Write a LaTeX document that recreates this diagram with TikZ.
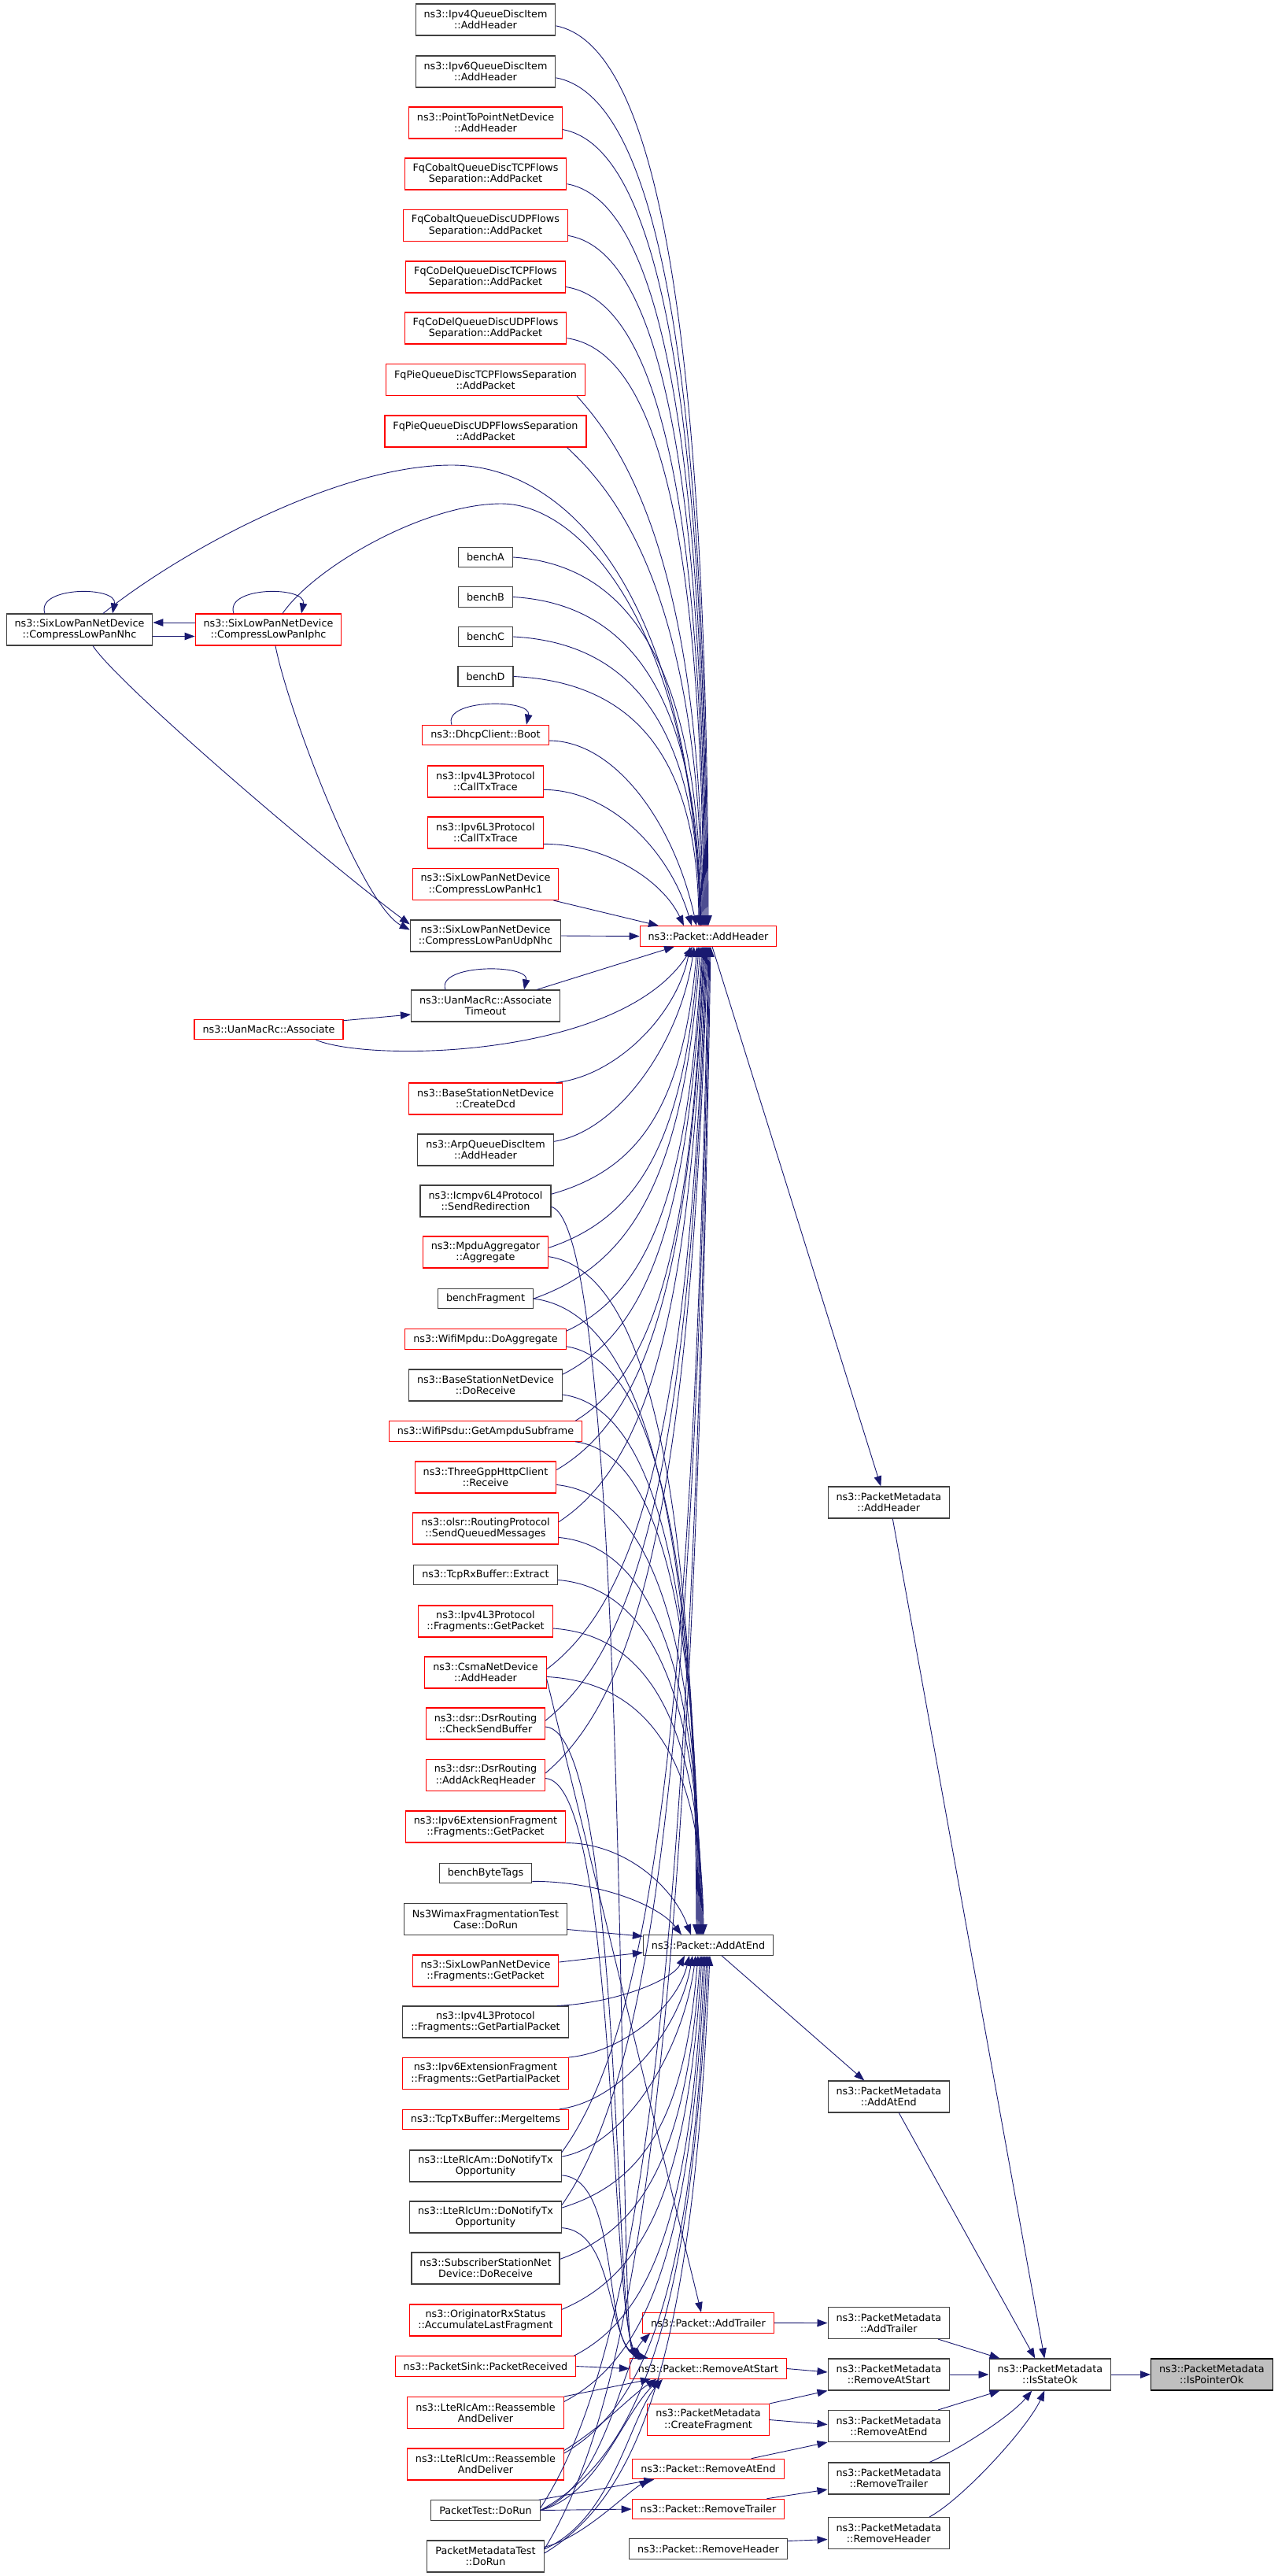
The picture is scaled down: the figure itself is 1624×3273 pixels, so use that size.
\documentclass[tikz,border=0pt]{standalone}
\usepackage{fontspec}
\setmainfont{DejaVu Sans}
\usetikzlibrary{arrows.meta,calc}
\definecolor{eblue}{HTML}{191970}
\definecolor{nred}{HTML}{FF0000}
\definecolor{ngray}{HTML}{404040}
\definecolor{rootfill}{HTML}{BFBFBF}
\newcommand\nodefont{\fontsize{12.75pt}{14.3pt}\selectfont}
\newcommand\fanedge[6]{\draw[e] let \p1=(#1), \p2=(#2) in (\p1) .. controls ({\x1+#3*(\x2-\x1)},{\y1+#4*(\y2-\y1)}) and ({\x2-#5*(\x2-\x1)},{\y2-#6*(\y2-\y1)}) .. (\p2);}
\newcommand\upfar[2]{\fanedge{#1}{#2}{0.6}{0.02}{0.01}{0.72}}
\newcommand\upnear[2]{\fanedge{#1}{#2}{0.45}{0}{0.15}{0.55}}
\newcommand\lowfar[2]{\fanedge{#1}{#2}{0.6}{0.1}{0.1}{0.65}}
\newcommand\lownear[2]{\fanedge{#1}{#2}{0.45}{0.05}{0.1}{0.5}}
\begin{document}
\begin{tikzpicture}[x=1pt,y=-1pt,
  e/.style={draw=eblue, line width=0.9pt, -{Triangle[length=13pt,width=9.5pt]}},
  box/.style={draw=ngray, line width=1.1pt, fill=white, font=\nodefont, align=center, inner xsep=10.5pt, inner ysep=0pt, minimum height=25.5pt, text=black},
  tl/.style={minimum height=40pt},
  rd/.style={draw=nred}]
\useasboundingbox (0,0) rectangle (1624,3273);
% ---------- column C ----------
\node[box,tl] (ipv4qdi) at (617,25) {ns3::Ipv4QueueDiscItem\\::AddHeader};
\node[box,tl] (ipv6qdi) at (617,91) {ns3::Ipv6QueueDiscItem\\::AddHeader};
\node[box,tl,rd] (p2p) at (617,156) {ns3::PointToPointNetDevice\\::AddHeader};
\node[box,tl,rd] (fqcobtcp) at (617,221) {FqCobaltQueueDiscTCPFlows\\Separation::AddPacket};
\node[box,tl,rd] (fqcobudp) at (617,286.5) {FqCobaltQueueDiscUDPFlows\\Separation::AddPacket};
\node[box,tl,rd] (fqcodtcp) at (617,352) {FqCoDelQueueDiscTCPFlows\\Separation::AddPacket};
\node[box,tl,rd] (fqcodudp) at (617,417) {FqCoDelQueueDiscUDPFlows\\Separation::AddPacket};
\node[box,tl,rd] (fqpietcp) at (617,482.5) {FqPieQueueDiscTCPFlowsSeparation\\::AddPacket};
\node[box,tl,rd] (fqpieudp) at (617,548) {FqPieQueueDiscUDPFlowsSeparation\\::AddPacket};
\node[box] (benchA) at (617,708) {benchA};
\node[box] (benchB) at (617,758.5) {benchB};
\node[box] (benchC) at (617,809) {benchC};
\node[box] (benchD) at (617,859.5) {benchD};
\node[box,rd] (boot) at (617,934) {ns3::DhcpClient::Boot};
\node[box,tl,rd] (ipv4tx) at (617,993) {ns3::Ipv4L3Protocol\\::CallTxTrace};
\node[box,tl,rd] (ipv6tx) at (617,1058) {ns3::Ipv6L3Protocol\\::CallTxTrace};
\node[box,tl,rd] (hc1) at (617,1123.5) {ns3::SixLowPanNetDevice\\::CompressLowPanHc1};
\node[box,tl] (udpnhc) at (617,1189) {ns3::SixLowPanNetDevice\\::CompressLowPanUdpNhc};
\node[box,tl] (assoctimeout) at (617,1278) {ns3::UanMacRc::Associate\\Timeout};
\node[box,tl,rd] (createdcd) at (617,1396) {ns3::BaseStationNetDevice\\::CreateDcd};
\node[box,tl] (arpqdi) at (617,1461) {ns3::ArpQueueDiscItem\\::AddHeader};
\node[box,tl] (sendredir) at (617,1526) {ns3::Icmpv6L4Protocol\\::SendRedirection};
\node[box,tl,rd] (mpduagg) at (617,1591) {ns3::MpduAggregator\\::Aggregate};
\node[box] (benchfrag) at (617,1650) {benchFragment};
\node[box,rd] (wifimpdu) at (617,1701.5) {ns3::WifiMpdu::DoAggregate};
\node[box,tl] (bsdorecv) at (617,1760) {ns3::BaseStationNetDevice\\::DoReceive};
\node[box,rd] (wifipsdu) at (617,1818.5) {ns3::WifiPsdu::GetAmpduSubframe};
\node[box,tl,rd] (threegpp) at (617,1877) {ns3::ThreeGppHttpClient\\::Receive};
\node[box,tl,rd] (olsr) at (617,1942) {ns3::olsr::RoutingProtocol\\::SendQueuedMessages};
\node[box] (tcprx) at (617,2001) {ns3::TcpRxBuffer::Extract};
\node[box,tl,rd] (ipv4frag) at (617,2060) {ns3::Ipv4L3Protocol\\::Fragments::GetPacket};
\node[box,tl,rd] (csma) at (617,2125) {ns3::CsmaNetDevice\\::AddHeader};
\node[box,tl,rd] (dsrcheck) at (617,2190) {ns3::dsr::DsrRouting\\::CheckSendBuffer};
\node[box,tl,rd] (dsrack) at (617,2255.5) {ns3::dsr::DsrRouting\\::AddAckReqHeader};
\node[box,tl,rd] (ipv6extfrag) at (617,2321) {ns3::Ipv6ExtensionFragment\\::Fragments::GetPacket};
\node[box] (benchbyte) at (617,2380) {benchByteTags};
\node[box,tl] (wimax) at (617,2438.5) {Ns3WimaxFragmentationTest\\Case::DoRun};
\node[box,tl,rd] (sixfrag) at (617,2504) {ns3::SixLowPanNetDevice\\::Fragments::GetPacket};
\node[box,tl] (ipv4partial) at (617,2569) {ns3::Ipv4L3Protocol\\::Fragments::GetPartialPacket};
\node[box,tl,rd] (ipv6partial) at (617,2634.5) {ns3::Ipv6ExtensionFragment\\::Fragments::GetPartialPacket};
\node[box,rd] (mergeitems) at (617,2693) {ns3::TcpTxBuffer::MergeItems};
\node[box,tl] (lteamnotify) at (617,2752) {ns3::LteRlcAm::DoNotifyTx\\Opportunity};
\node[box,tl] (lteumnotify) at (617,2817) {ns3::LteRlcUm::DoNotifyTx\\Opportunity};
\node[box,tl] (ssdorecv) at (617,2882) {ns3::SubscriberStationNet\\Device::DoReceive};
\node[box,tl,rd] (origrx) at (617,2948) {ns3::OriginatorRxStatus\\::AccumulateLastFragment};
\node[box,rd] (pktsink) at (617,3006.5) {ns3::PacketSink::PacketReceived};
\node[box,tl,rd] (lteamreass) at (617,3065.5) {ns3::LteRlcAm::Reassemble\\AndDeliver};
\node[box,tl,rd] (lteumreass) at (617,3131) {ns3::LteRlcUm::Reassemble\\AndDeliver};
\node[box] (pkttest) at (617,3189.5) {PacketTest::DoRun};
\node[box,tl] (pmtest) at (617,3248) {PacketMetadataTest\\::DoRun};
% ---------- left ----------
\node[box,tl] (nhc) at (101,800) {ns3::SixLowPanNetDevice\\::CompressLowPanNhc};
\node[box,tl,rd] (iphc) at (341,800) {ns3::SixLowPanNetDevice\\::CompressLowPanIphc};
\node[box,rd] (associate) at (341.5,1308) {ns3::UanMacRc::Associate};
% ---------- column D ----------
\node[box,rd] (addheader) at (900,1189.5) {ns3::Packet::AddHeader};
\node[box] (addatend) at (900,2471.5) {ns3::Packet::AddAtEnd};
\node[box,rd] (addtrailer) at (900,2951.3) {ns3::Packet::AddTrailer};
\node[box,rd] (removeatstart) at (900,3009.5) {ns3::Packet::RemoveAtStart};
\node[box,tl,rd] (createfrag) at (900,3074.5) {ns3::PacketMetadata\\::CreateFragment};
\node[box,rd] (removeatend) at (900,3137) {ns3::Packet::RemoveAtEnd};
\node[box,rd] (removetrailer) at (900,3188) {ns3::Packet::RemoveTrailer};
\node[box] (removeheader) at (900,3238.5) {ns3::Packet::RemoveHeader};
% ---------- column E/F/G ----------
\node[box,tl] (pmaddheader) at (1129.3,1909) {ns3::PacketMetadata\\::AddHeader};
\node[box,tl] (pmaddatend) at (1129.3,2664) {ns3::PacketMetadata\\::AddAtEnd};
\node[box,tl] (pmaddtrailer) at (1129.3,2951.5) {ns3::PacketMetadata\\::AddTrailer};
\node[box,tl] (pmremoveatstart) at (1129.3,3017) {ns3::PacketMetadata\\::RemoveAtStart};
\node[box,tl] (pmremoveatend) at (1129.3,3082.5) {ns3::PacketMetadata\\::RemoveAtEnd};
\node[box,tl] (pmremovetrailer) at (1129.3,3149) {ns3::PacketMetadata\\::RemoveTrailer};
\node[box,tl] (pmremoveheader) at (1129.3,3218.5) {ns3::PacketMetadata\\::RemoveHeader};
\node[box,tl] (isstateok) at (1334.3,3017) {ns3::PacketMetadata\\::IsStateOk};
\node[box,tl,draw=black,fill=rootfill] (ispointerok) at (1539.8,3017) {ns3::PacketMetadata\\::IsPointerOk};

% ---------- left cluster edges ----------
\draw[e] ($(nhc.north)+(-44,0)$) .. controls +(-12,-35) and +(7,-35) .. ($(nhc.north)+(42,0)$);
\draw[e] ($(iphc.north)+(-44,0)$) .. controls +(-12,-35) and +(7,-35) .. ($(iphc.north)+(42,0)$);
\draw[e] ($(boot.north)+(-43,0)$) .. controls +(-12,-33) and +(7,-33) .. ($(boot.north)+(52,0)$);
\draw[e] ($(assoctimeout.north)+(-51,0)$) .. controls +(-12,-33) and +(7,-33) .. ($(assoctimeout.north)+(49,0)$);
\draw[e] ($(iphc.west)+(0,-9)$) -- ($(nhc.east)+(0,-9)$);
\draw[e] ($(nhc.east)+(0,8.5)$) -- ($(iphc.west)+(0,8.5)$);
\draw[e] ($(nhc.south)+(17,0)$) .. controls (150,870) and (420,1100) .. ($(udpnhc.north west)+(0,6)$);
\draw[e] ($(iphc.south)+(9,0)$) .. controls (365,900) and (460,1150) .. ($(udpnhc.north west)+(0,13)$);
\draw[e] ($(nhc.north)+(30,0)$) .. controls (230,700) and (430,591) .. (574,591) .. controls (720,591) and (875,750) .. ($(addheader.north)+(-9,0)$);
\draw[e] ($(iphc.north)+(18,0)$) .. controls (400,720) and (540,640) .. (637,640) .. controls (740,640) and (880,800) .. ($(addheader.north)+(-10,0)$);
\draw[e] ($(associate.north east)+(0,2)$) -- ($(assoctimeout.west)+(0,11)$);
\draw[e] ($(associate.south east)+(-35,0)$) .. controls (470,1350) and (790,1345) .. ($(addheader.south)+(-20,0)$);

% ---------- to Packet::AddHeader from above ----------
\upfar{ipv4qdi.-5}{$(addheader.north)+(0,0)$}
\upfar{ipv6qdi.-5}{$(addheader.north)+(-1,0)$}
\upfar{p2p.-5}{$(addheader.north)+(-2,0)$}
\upfar{fqcobtcp.-7}{$(addheader.north)+(-3,0)$}
\upfar{fqcobudp.-7}{$(addheader.north)+(-4,0)$}
\upfar{fqcodtcp.-7}{$(addheader.north)+(-5,0)$}
\upfar{fqcodudp.-7}{$(addheader.north)+(-6,0)$}
\fanedge{$(fqpietcp.south east)+(-11,0)$}{$(addheader.north)+(-7,0)$}{0.3}{0.08}{0.01}{0.72}
\fanedge{$(fqpieudp.south east)+(-25,0)$}{$(addheader.north)+(-8,0)$}{0.3}{0.08}{0.01}{0.72}
\upfar{benchA.east}{$(addheader.north)+(-9,0)$}
\upfar{benchB.east}{$(addheader.north)+(-10,0)$}
\upfar{benchC.east}{$(addheader.north)+(-11,0)$}
\upfar{benchD.east}{$(addheader.north)+(-12,0)$}
\upnear{boot.-5}{$(addheader.north)+(-15,0)$}
\upnear{ipv4tx.-8}{$(addheader.north)+(-21,0)$}
\upnear{ipv6tx.-11}{$(addheader.north)+(-31,0)$}
\draw[e] ($(hc1.south east)+(-7,0)$) -- ($(addheader.north)+(-63,0)$);
\draw[e] (udpnhc.east) -- (addheader.west);
\draw[e] ($(assoctimeout.north east)+(-30,0)$) -- ($(addheader.south)+(-43,0)$);

% ---------- to Packet::AddHeader from below ----------
\lownear{$(createdcd.north east)+(-8,0)$}{$(addheader.south)+(-23,0)$}
\lownear{arpqdi.7}{$(addheader.south)+(-18,0)$}
\lowfar{sendredir.6}{$(addheader.south)+(-14,0)$}
\lowfar{mpduagg.4}{$(addheader.south)+(-12,0)$}
\lowfar{benchfrag.east}{$(addheader.south)+(-10,0)$}
\lowfar{$(wifimpdu.north east)+(0,3)$}{$(addheader.south)+(-8,0)$}
\lowfar{bsdorecv.8}{$(addheader.south)+(-7,0)$}
\lowfar{$(wifipsdu.north east)+(-9,0)$}{$(addheader.south)+(-6,0)$}
\lowfar{threegpp.6}{$(addheader.south)+(-5,0)$}
\lowfar{olsr.5}{$(addheader.south)+(-4,0)$}
\lowfar{csma.3}{$(addheader.south)+(-3,0)$}
\lowfar{dsrcheck.3}{$(addheader.south)+(-2,0)$}
\lowfar{dsrack.2}{$(addheader.south)+(-1,0)$}
\lowfar{lteamnotify.10}{$(addheader.south)+(0,0)$}
\lowfar{lteumnotify.9}{$(addheader.south)+(1,0)$}
\lowfar{$(pkttest.east)+(0,-3)$}{$(addheader.south)+(2,0)$}
\lowfar{pmtest.7}{$(addheader.south)+(3,0)$}

% ---------- to Packet::AddAtEnd from above ----------
\upfar{mpduagg.-4}{$(addatend.north)+(-15,0)$}
\upfar{benchfrag.east}{$(addatend.north)+(-14,0)$}
\upfar{$(wifimpdu.south east)+(0,-4)$}{$(addatend.north)+(-13,0)$}
\upfar{bsdorecv.-7}{$(addatend.north)+(-12,0)$}
\upfar{$(wifipsdu.south east)+(-9,0)$}{$(addatend.north)+(-11,0)$}
\upfar{threegpp.-6}{$(addatend.north)+(-10,0)$}
\upfar{olsr.-7}{$(addatend.north)+(-9,0)$}
\upfar{tcprx.-4}{$(addatend.north)+(-8,0)$}
\upfar{ipv4frag.-6}{$(addatend.north)+(-7,0)$}
\upfar{csma.-4}{$(addatend.north)+(-6,0)$}
\upnear{ipv6extfrag.south east}{$(addatend.north)+(-22,0)$}
\upnear{$(benchbyte.south east)+(0,-3)$}{$(addatend.north)+(-34,0)$}
\draw[e] ($(wimax.east)+(0,13)$) -- ($(addatend.north west)+(0,2)$);
\draw[e] ($(sixfrag.east)+(0,-11)$) -- ($(addatend.south west)+(0,-4)$);

% ---------- to Packet::AddAtEnd from below ----------
\lownear{$(ipv4partial.north east)+(-15,0)$}{$(addatend.south)+(-30,0)$}
\lownear{ipv6partial.north east}{$(addatend.south)+(-24,0)$}
\lownear{$(mergeitems.north east)+(-12,0)$}{$(addatend.south)+(-20,0)$}
\lownear{lteamnotify.7}{$(addatend.south)+(-16,0)$}
\lowfar{lteumnotify.7}{$(addatend.south)+(-13,0)$}
\lowfar{ssdorecv.7}{$(addatend.south)+(-10,0)$}
\lowfar{origrx.8}{$(addatend.south)+(-8,0)$}
\lowfar{$(pktsink.north east)+(-3,0)$}{$(addatend.south)+(-6,0)$}
\lowfar{lteamreass.8}{$(addatend.south)+(-4,0)$}
\lowfar{lteumreass.8}{$(addatend.south)+(-2,0)$}
\lowfar{pkttest.east}{$(addatend.south)+(0,0)$}
\lowfar{pmtest.3}{$(addatend.south)+(2,0)$}

% ---------- lower Packet functions ----------
\draw[e] (sendredir.-5) .. controls (800,1560) and (785,2945) .. ($(removeatstart.north)+(-92,0)$);
\draw[e] (dsrcheck.-3) .. controls (790,2200) and (780,2950) .. ($(removeatstart.north)+(-88,0)$);
\draw[e] (dsrack.-3) .. controls (785,2265) and (775,2955) .. ($(removeatstart.north)+(-84,0)$);
\draw[e] (lteamnotify.-7) .. controls (790,2768) and (765,2980) .. ($(removeatstart.north)+(-80,0)$);
\draw[e] (lteumnotify.-8) .. controls (785,2835) and (770,2985) .. ($(removeatstart.north)+(-76,0)$);
\draw[e] (csma.-6) -- ($(addtrailer.north)+(-9,0)$);
\draw[e] (pktsink.east) -- (removeatstart.west);
\draw[e] (lteamreass.north east) -- ($(removeatstart.south)+(-73,0)$);
\draw[e] (lteumreass.10) .. controls (770,3080) and (800,3045) .. ($(removeatstart.south)+(-66,0)$);
\draw[e] (pkttest.east) .. controls (760,3170) and (790,3070) .. ($(removeatstart.south)+(-62,0)$);
\draw[e] (pmtest.7) .. controls (780,3200) and (800,3070) .. ($(removeatstart.south)+(-58,0)$);
\draw[e] (pkttest.east) .. controls (770,3160) and (790,3000) .. ($(addtrailer.south west)+(10,0)$);
\draw[e] ($(pkttest.north east)+(-2,0)$) -- ($(removeatend.south west)+(28,0)$);
\draw[e] (pmtest.9) .. controls (740,3225) and (795,3168) .. ($(removeatend.south west)+(22,0)$);
\draw[e] (pkttest.east) -- (removetrailer.west);

% ---------- right side ----------
\draw[e] ($(addheader.south)+(5,0)$) -- ($(pmaddheader.north)+(-10,0)$);
\draw[e] ($(addatend.south)+(17,0)$) -- ($(pmaddatend.north)+(-31,0)$);
\draw[e] (addtrailer.east) -- (pmaddtrailer.west);
\draw[e] (removeatstart.east) -- ($(pmremoveatstart.west)+(0,-3)$);
\draw[e] (createfrag.north east) -- (pmremoveatstart.south west);
\draw[e] (createfrag.east) -- ($(pmremoveatend.west)+(0,-2)$);
\draw[e] ($(removeatend.north east)+(-42,0)$) -- (pmremoveatend.south west);
\draw[e] ($(removetrailer.north east)+(-23,0)$) -- ($(pmremovetrailer.west)+(0,14)$);
\draw[e] ($(removeheader.east)+(0,-10)$) -- ($(pmremoveheader.west)+(0,8)$);
\draw[e] ($(pmaddheader.south)+(5,0)$) -- ($(isstateok.north)+(-7,0)$);
\draw[e] ($(pmaddatend.south)+(13,0)$) -- ($(isstateok.north)+(-19,0)$);
\draw[e] ($(pmaddtrailer.south east)+(-15,0)$) -- ($(isstateok.north west)+(14,0)$);
\draw[e] (pmremoveatstart.east) -- (isstateok.west);
\draw[e] ($(pmremoveatend.north east)+(-15,0)$) -- ($(isstateok.south west)+(14,0)$);
\draw[e] ($(pmremovetrailer.north east)+(-26,0)$) .. controls +(45,-20) and +(-25,30) .. ($(isstateok.south)+(-23,0)$);
\draw[e] ($(pmremoveheader.north east)+(-26,0)$) .. controls +(45,-25) and +(-20,45) .. ($(isstateok.south)+(-7,0)$);
\draw[e] (isstateok.east) -- (ispointerok.west);
\end{tikzpicture}
\end{document}
